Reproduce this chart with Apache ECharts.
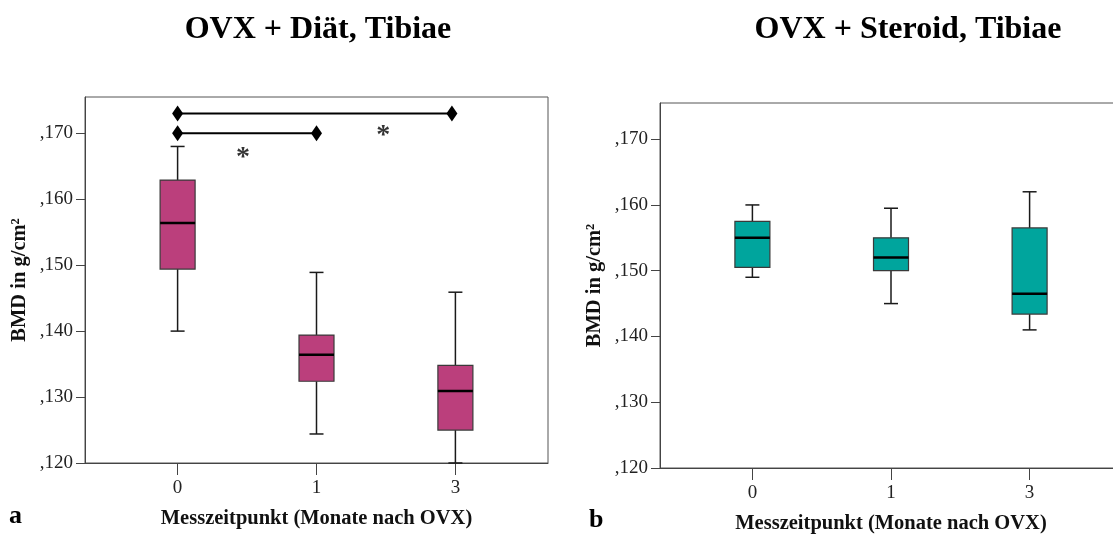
<!DOCTYPE html>
<html>
<head>
<meta charset="utf-8">
<script src="https://cdn.jsdelivr.net/npm/echarts@6/dist/echarts.min.js"></script>
<style>
html,body{margin:0;padding:0;background:#fff;}
#chart{width:1113px;height:534px;}
</style>
</head>
<body>
<div id="chart"></div>
<script>
// ---- data ----
const categories = ['0', '1', '3'];
const yTickValues = [0.12, 0.13, 0.14, 0.15, 0.16, 0.17];
// [min, Q1, median, Q3, max] per time point
const diaetStats = [
  [0.1400, 0.1494, 0.1564, 0.1629, 0.1680],
  [0.1244, 0.1324, 0.1364, 0.1394, 0.1489],
  [0.1200, 0.1250, 0.1309, 0.1348, 0.1459]
];
const steroidStats = [
  [0.1490, 0.1505, 0.1550, 0.1575, 0.1600],
  [0.1450, 0.1500, 0.1520, 0.1550, 0.1595],
  [0.1410, 0.1434, 0.1465, 0.1565, 0.1620]
];
// significance brackets: [xFrom, xTo, y]
const sigBrackets = [
  [0, 1, 0.1700],
  [0, 1.975, 0.1730]
];
// asterisk positions [x, y]
const sigStars = [
  [0.47, 0.1673],
  [1.48, 0.1707]
];
const titles = ['OVX + Diät, Tibiae', 'OVX + Steroid, Tibiae'];
const yName = 'BMD in g/cm²';
const xName = 'Messzeitpunkt (Monate nach OVX)';

// ---- chart ----
const SERIF = '"Liberation Serif", "Times New Roman", serif';
const chart = echarts.init(document.getElementById('chart'));

function boxData(stats) {
  return stats.map((s, i) => [i, s[0], s[1], s[2], s[3], s[4]]);
}

function renderBox(fill) {
  return function (params, api) {
    const x = api.value(0);
    const pMin = api.coord([x, api.value(1)]);
    const pQ1 = api.coord([x, api.value(2)]);
    const pMed = api.coord([x, api.value(3)]);
    const pQ3 = api.coord([x, api.value(4)]);
    const pMax = api.coord([x, api.value(5)]);
    const cx = pMin[0];
    const bw = 35, cw = 14;
    const wStyle = { stroke: '#1a1a1a', lineWidth: 1.5 };
    return {
      type: 'group',
      children: [
        { type: 'line', shape: { x1: cx, y1: pMax[1], x2: cx, y2: pQ3[1] }, style: wStyle },
        { type: 'line', shape: { x1: cx, y1: pQ1[1], x2: cx, y2: pMin[1] }, style: wStyle },
        { type: 'line', shape: { x1: cx - cw / 2, y1: pMax[1], x2: cx + cw / 2, y2: pMax[1] }, style: wStyle },
        { type: 'line', shape: { x1: cx - cw / 2, y1: pMin[1], x2: cx + cw / 2, y2: pMin[1] }, style: wStyle },
        { type: 'rect', shape: { x: cx - bw / 2, y: pQ3[1], width: bw, height: pQ1[1] - pQ3[1] },
          style: { fill: fill, stroke: '#3a3a3a', lineWidth: 1.2 } },
        { type: 'line', shape: { x1: cx - bw / 2, y1: pMed[1], x2: cx + bw / 2, y2: pMed[1] },
          style: { stroke: '#000', lineWidth: 2.5 } }
      ]
    };
  };
}

function makeX(gi) {
  return {
    gridIndex: gi, type: 'value', min: -2 / 3, max: 8 / 3,
    name: xName, nameLocation: 'middle', nameGap: 45,
    nameTextStyle: { fontFamily: SERIF, fontWeight: 'bold', fontSize: 20.5, color: '#111' },
    axisLine: { show: true, onZero: false, lineStyle: { color: '#444', width: 1 } },
    axisTick: { show: true, customValues: [0, 1, 2], length: 12, lineStyle: { color: '#444' } },
    axisLabel: { customValues: [0, 1, 2], formatter: v => categories[Math.round(v)],
      fontFamily: SERIF, fontSize: 19, color: '#222', margin: 16 },
    splitLine: { show: false }
  };
}
function makeY(gi) {
  return {
    gridIndex: gi, type: 'value', min: 0.12, max: 0.1755,
    name: yName, nameLocation: 'middle', nameGap: 55, nameRotate: 90,
    nameTextStyle: { fontFamily: SERIF, fontWeight: 'bold', fontSize: 20.5, color: '#111' },
    axisLine: { show: true, onZero: false, lineStyle: { color: '#444', width: 1 } },
    axisTick: { show: true, customValues: yTickValues, length: 9, lineStyle: { color: '#444' } },
    axisLabel: { customValues: yTickValues, formatter: v => ',' + Math.round(v * 1000),
      fontFamily: SERIF, fontSize: 19, color: '#222', margin: 12 },
    splitLine: { show: false }
  };
}

const series = [
  { type: 'custom', xAxisIndex: 0, yAxisIndex: 0, renderItem: renderBox('#BB3F7C'),
    data: boxData(diaetStats), encode: { x: 0, y: [1, 2, 3, 4, 5] }, z: 2 },
  { type: 'custom', xAxisIndex: 1, yAxisIndex: 1, renderItem: renderBox('#00A59D'),
    data: boxData(steroidStats), encode: { x: 0, y: [1, 2, 3, 4, 5] }, z: 2 }
];
sigBrackets.forEach(b => {
  series.push({
    type: 'line', xAxisIndex: 0, yAxisIndex: 0,
    data: [[b[0], b[2]], [b[1], b[2]]],
    symbol: 'diamond', symbolSize: [11, 16], showSymbol: true,
    itemStyle: { color: '#000' }, lineStyle: { color: '#000', width: 2.2 },
    silent: true, animation: false, z: 3
  });
});
series.push({
  type: 'scatter', xAxisIndex: 0, yAxisIndex: 0, data: sigStars,
  symbolSize: 0, silent: true, animation: false,
  label: { show: true, position: 'inside', formatter: '*', offset: [0, 7],
    fontFamily: SERIF, fontWeight: 'bold', fontSize: 28, color: '#000' }
});

chart.setOption({
  animation: false,
  backgroundColor: '#fff',
  title: [
    { text: titles[0], left: 313, top: 9, textAlign: 'center',
      textStyle: { fontFamily: SERIF, fontWeight: 'bold', fontSize: 32, color: '#000' } },
    { text: titles[1], left: 903, top: 9, textAlign: 'center',
      textStyle: { fontFamily: SERIF, fontWeight: 'bold', fontSize: 32, color: '#000' } }
  ],
  grid: [
    { left: 85, top: 97, width: 463, height: 366, show: true, borderColor: '#555', borderWidth: 1,
      backgroundColor: 'transparent', outerBoundsMode: 'none', containLabel: false },
    { left: 660, top: 103, width: 462, height: 365, show: true, borderColor: '#555', borderWidth: 1,
      backgroundColor: 'transparent', outerBoundsMode: 'none', containLabel: false }
  ],
  xAxis: [makeX(0), makeX(1)],
  yAxis: [makeY(0), makeY(1)],
  graphic: [
    { type: 'text', left: 9, top: 503, style: { text: 'a', font: 'bold 26px ' + SERIF, fill: '#000' } },
    { type: 'text', left: 589, top: 507, style: { text: 'b', font: 'bold 26px ' + SERIF, fill: '#000' } }
  ],
  series: series
});
</script>
</body>
</html>
